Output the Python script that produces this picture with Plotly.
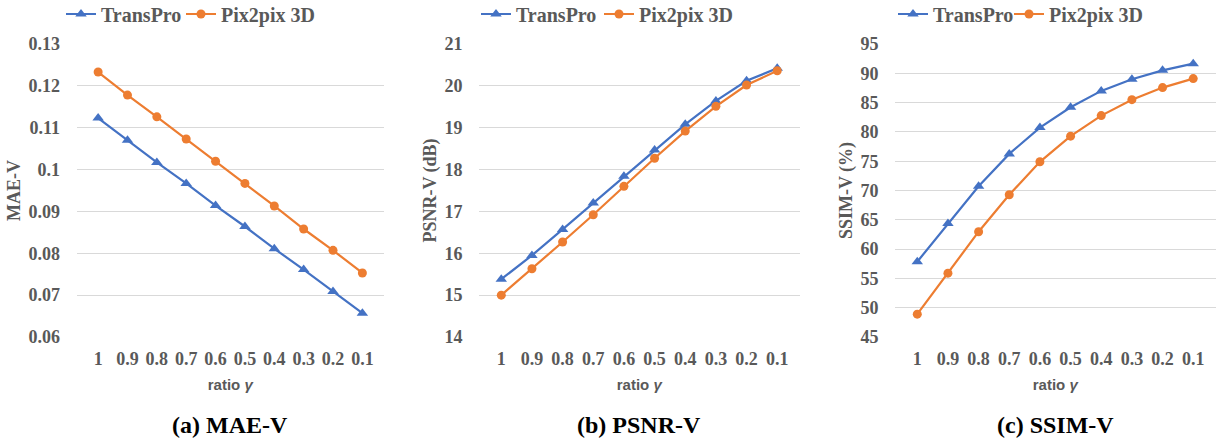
import plotly.graph_objects as go

# ---------------- data ----------------
ratios = ["1", "0.9", "0.8", "0.7", "0.6", "0.5", "0.4", "0.3", "0.2", "0.1"]

mae_transpro = [0.1123, 0.1070, 0.1017, 0.0967, 0.0914, 0.0864, 0.0811, 0.0761, 0.0709, 0.0657]
mae_pix2pix = [0.1233, 0.1178, 0.1126, 0.1073, 0.1020, 0.0967, 0.0913, 0.0858, 0.0807, 0.0753]

psnr_transpro = [15.38, 15.95, 16.57, 17.20, 17.84, 18.47, 19.08, 19.64, 20.12, 20.42]
psnr_pix2pix = [15.00, 15.63, 16.27, 16.92, 17.60, 18.27, 18.92, 19.51, 20.02, 20.36]

ssim_transpro = [57.85, 64.37, 70.73, 76.25, 80.73, 84.20, 87.00, 88.98, 90.50, 91.65]
ssim_pix2pix = [48.90, 55.90, 62.97, 69.27, 74.90, 79.27, 82.78, 85.50, 87.56, 89.10]

series_names = ["TransPro", "Pix2pix 3D"]
y_titles = ["MAE-V", "PSNR-V (dB)", "SSIM-V (%)"]
sub_titles = ["(a) MAE-V", "(b) PSNR-V", "(c) SSIM-V"]
x_title = "ratio <i>γ</i>"
y_ranges = [(0.06, 0.13, 0.01), (14, 21, 1), (45, 95, 5)]

# ---------------- style ----------------
W, H = 1217, 441
BLUE = "#4472C4"
ORANGE = "#ED7D31"
GRAY = "#595959"
GRID = "#D9D9D9"
SERIF = "Liberation Serif"

x_domains_px = [(76.5, 384), (479, 799.5), (895, 1215.5)]
y_domain = [(H - 337) / H, (H - 44) / H]
# left edge (px) of the legend text for each entry, per panel
legend_text_px = [(101, 221), (516, 639), (933, 1049)]

fig = go.Figure()
data = [(mae_transpro, mae_pix2pix), (psnr_transpro, psnr_pix2pix), (ssim_transpro, ssim_pix2pix)]

for i, (a, b) in enumerate(data):
    n = i + 1
    xa = "x" if n == 1 else f"x{n}"
    ya = "y" if n == 1 else f"y{n}"
    lg_a = "legend" if i == 0 else f"legend{2 * i + 1}"
    lg_b = f"legend{2 * i + 2}"
    fig.add_trace(go.Scatter(
        x=ratios, y=a, name=series_names[0], mode="lines+markers",
        line=dict(color=BLUE, width=2.2), marker=dict(symbol="triangle-up", size=10, color=BLUE),
        xaxis=xa, yaxis=ya, legend=lg_a))
    fig.add_trace(go.Scatter(
        x=ratios, y=b, name=series_names[1], mode="lines+markers",
        line=dict(color=ORANGE, width=2.2), marker=dict(symbol="circle", size=9, color=ORANGE),
        xaxis=xa, yaxis=ya, legend=lg_b))

    d0, d1 = x_domains_px[i]
    lo, hi, dt = y_ranges[i]
    xkey = "xaxis" if n == 1 else f"xaxis{n}"
    ykey = "yaxis" if n == 1 else f"yaxis{n}"
    fig.update_layout(**{
        xkey: dict(
            domain=[d0 / W, d1 / W], anchor=ya, type="category",
            showgrid=False, showline=False, zeroline=False,
            ticks="outside", ticklen=5, tickcolor="rgba(0,0,0,0)",
            tickfont=dict(family=SERIF, size=18, color=GRAY, weight="bold"),
            title=dict(text=x_title, standoff=11,
                       font=dict(family="Liberation Sans", size=15, color=GRAY, weight="bold")),
            fixedrange=True,
        ),
        ykey: dict(
            domain=y_domain, anchor=xa, range=[lo, hi], dtick=dt, tick0=lo,
            showgrid=True, gridcolor=GRID, gridwidth=1, zeroline=False, showline=False,
            ticks="outside", ticklen=12, tickcolor="rgba(0,0,0,0)",
            tickfont=dict(family=SERIF, size=18, color=GRAY, weight="bold"),
            title=dict(text=y_titles[i], standoff=3,
                       font=dict(family=SERIF, size=18, color=GRAY, weight="bold")),
            fixedrange=True,
        ),
    })
    # one legend per entry so each can be placed like the original
    for lg, tx in zip((lg_a, lg_b), legend_text_px[i]):
        fig.update_layout(**{
            lg: dict(
                orientation="h", x=(tx - 40) / W, xanchor="left", y=(H - 14) / H, yanchor="middle",
                font=dict(family=SERIF, size=20, color=GRAY, weight="bold"),
                bgcolor="rgba(0,0,0,0)", itemwidth=30,
            )
        })
    # sub title
    fig.add_annotation(
        text=sub_titles[i], x=(d0 + d1) / 2 / W, y=(H - 425) / H,
        xref="paper", yref="paper", xanchor="center", yanchor="middle", showarrow=False,
        font=dict(family=SERIF, size=24, color="black", weight="bold"))

fig.update_layout(
    width=W, height=H, margin=dict(l=0, r=0, t=0, b=0, autoexpand=False),
    plot_bgcolor="white", paper_bgcolor="white", showlegend=True,
)

fig.write_html(
    "out.html",
    config={"displayModeBar": False},
    post_script="document.body.style.margin='0';document.body.style.overflow='hidden';",
)
